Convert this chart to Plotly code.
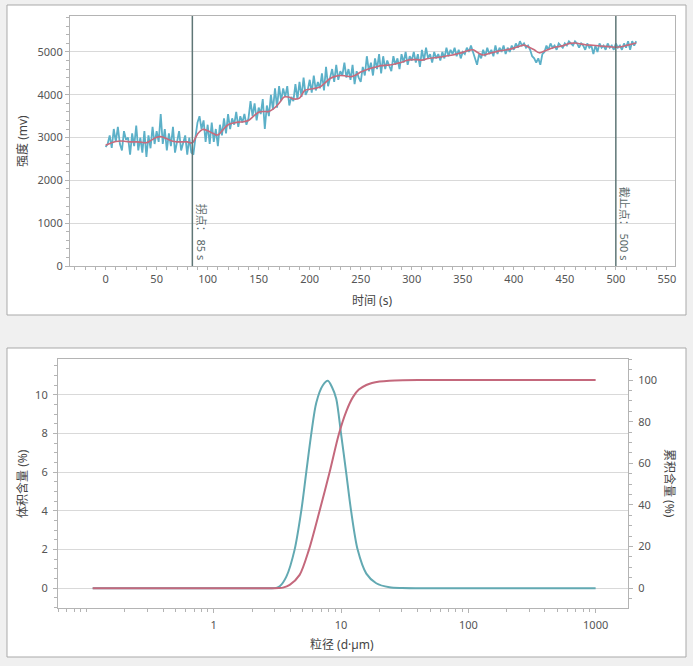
import plotly.graph_objects as go

# ---- top chart: signal intensity vs time ----
t_raw = list(range(0, 521, 2))
raw_mv = [
    2780, 2850, 3050, 2760, 3200, 2900, 3250, 2850, 2700, 3150, 2950,
    3000, 2600, 3100, 2800, 3280, 2700, 3000, 2650, 3150, 2550,
    3050, 2750, 3250, 2850, 3150, 2900, 3550, 2850, 3200, 2700,
    3100, 2800, 3250, 2650, 2950, 3150, 2700, 2900, 3050, 2600, 3000, 2650,
    2600, 3000, 3350, 3500, 3200, 3400, 2900, 3300,
    2850, 3350, 2900, 3200, 2800, 3300, 3050, 3450, 3100, 3550,
    3200, 3450, 3300, 3600, 3250, 3500, 3350, 3550, 3300, 3450, 3850, 3500, 3800, 3400, 3700,
    3550, 3900, 3200, 3750, 3500, 4000, 3650, 4150, 3700, 4200, 3850, 4150, 3950, 4200, 3750,
    3950, 3850, 4250, 3900, 4300, 3950, 4400, 4000, 4100, 4350, 4050, 4450, 4100, 4300, 4150,
    4500, 4100, 4650, 4200, 4400, 4600, 4300, 4700, 4350, 4550, 4450, 4750, 4400, 4600, 4350,
    4700, 4250, 4550, 4400, 4300, 4650, 4450, 4900, 4550, 4750, 4450, 4850, 4600, 4950, 4500,
    4900, 4600, 4800, 4650, 4550, 4900, 4700, 4850, 4600, 4950, 4750, 5000, 4700, 4900, 4800,
    5000, 4750, 4950, 4650, 5050, 4800, 5100, 4850, 4950, 4750, 5000, 4850, 4950, 4800, 5000,
    4850, 5100, 4900, 5050, 4950, 5100, 4900, 5050, 4850, 5000, 4950, 5100, 5000, 5150, 5000,
    4800, 4700, 4950, 4850, 5050, 4900, 5100, 4950, 5050, 4900, 5150, 4950, 5100, 5000, 5150,
    4950, 5100, 5000, 5150, 5050, 5200, 5100, 5250, 5150, 5200, 5100, 5150, 5050, 4900, 4850,
    4750, 4850, 4700, 4950, 5000, 5150, 5050, 5200, 5100, 5150, 5050, 5200, 5150, 5100, 5200,
    5150, 5250, 5200, 5150, 5250, 5200, 5100, 5200, 5150, 5050, 5200, 5100, 5150, 4950, 5150,
    5000, 5200, 5100, 5150, 5050, 5200, 5100, 5150, 5050, 5200, 5100, 5150, 5050, 5200, 5100,
    5250, 5050, 5250, 5150, 5250,
]
t_smooth = list(range(0, 521, 5))
smooth_mv = [
    2820, 2870, 2910, 2920, 2910, 2900, 2900, 2890, 2880, 2940,
    3010, 3020, 2970, 2920, 2900, 2900, 2900, 2880, 3080, 3190,
    3160, 3100, 3060, 3180, 3300, 3340, 3360, 3370, 3400, 3500,
    3590, 3610, 3610, 3680, 3800, 3950, 3940, 3900, 3920, 4100,
    4130, 4150, 4180, 4280, 4380, 4430, 4450, 4440, 4420, 4460,
    4530, 4580, 4620, 4650, 4680, 4690, 4700, 4730, 4760, 4800,
    4820, 4820, 4810, 4840, 4860, 4870, 4890, 4910, 4930, 4960,
    4990, 5030, 5050, 4980, 4930, 4960, 4990, 5020, 5040, 5060,
    5090, 5130, 5160, 5110, 5050, 4980, 5020, 5070, 5110, 5130,
    5160, 5200, 5210, 5190, 5170, 5160, 5150, 5140, 5130, 5120,
    5110, 5120, 5150, 5180, 5210,
]
knee_s = 85
cutoff_s = 500

# ---- bottom chart: particle size distribution ----
size_um = [0.112, 0.5, 1, 2, 2.8, 3.1, 3.3, 3.72, 4.32, 4.87, 5.33, 5.84, 6.39, 7.2,
           7.88, 8.5, 9.17, 10.0, 10.97, 12.0, 13.5, 15.8, 18.9, 24, 30, 50, 100, 300, 1000]
volume_pct = [0, 0, 0, 0, 0, 0.02, 0.1, 0.6, 2.0, 4.0, 6.0, 8.0, 9.6, 10.5,
              10.73, 10.4, 9.8, 8.0, 6.0, 4.0, 2.0, 0.76, 0.26, 0.05, 0.01, 0, 0, 0, 0]
cum_size_um = [0.112, 0.5, 1, 2, 3.0, 3.25, 3.5, 3.95, 4.73, 5.59, 6.78, 8.13, 9.62, 11.0,
               12.4, 13.8, 15.8, 17.5, 20.1, 24, 30.6, 50, 100, 1000]
cum_pct = [0, 0, 0, 0, 0, 0.08, 0.3, 1.6, 6.4, 18.4, 37.1, 55.7, 74.1, 85.0,
           91.8, 95.4, 97.6, 98.6, 99.3, 99.7, 99.9, 100, 100, 100]

# layout is given in fractions of the visible page (which renders ~659px tall)
W, H = 693, 659
FONT = "Noto Sans, Noto Sans CJK SC, sans-serif"
TICKC = "#555555"
AXC = "#b4b4b4"
GRIDC = "#d9d9d9"


def px(p):
    return p / W


def py(p):
    return 1 - p / H


fig = go.Figure()
fig.add_trace(go.Scatter(x=t_raw, y=raw_mv, mode="lines",
                         line=dict(color="#5cb0c8", width=1.8), xaxis="x", yaxis="y"))
fig.add_trace(go.Scatter(x=t_smooth, y=smooth_mv, mode="lines", line_shape="spline",
                         line=dict(color="#c86a7c", width=1.6), xaxis="x", yaxis="y"))
fig.add_trace(go.Scatter(x=size_um, y=volume_pct, mode="lines", line_shape="spline",
                         line=dict(color="#62a9b2", width=2, smoothing=0.8), xaxis="x2", yaxis="y2"))
fig.add_trace(go.Scatter(x=cum_size_um, y=cum_pct, mode="lines", line_shape="spline",
                         line=dict(color="#c4687c", width=2, smoothing=0.8), xaxis="x2", yaxis="y3"))

tick_font = dict(size=11, color=TICKC, family=FONT)
axis_common = dict(showline=True, linecolor=AXC, linewidth=1, mirror=True,
                   ticks="outside", ticklen=4, tickcolor=AXC,
                   tickfont=tick_font, zeroline=False)

fig.update_layout(
    autosize=True, margin=dict(l=0, r=0, t=0, b=0),
    paper_bgcolor="#f0f0f0", plot_bgcolor="rgba(0,0,0,0)",
    showlegend=False, font=dict(family=FONT, color="#444444"),
    xaxis=dict(axis_common, domain=[px(70), px(676)], range=[-35, 558], anchor="y",
               dtick=50, showgrid=False, ticklen=3, ticklabelstandoff=0,
               minor=dict(dtick=10, ticks="outside", ticklen=3, tickcolor=AXC)),
    yaxis=dict(axis_common, domain=[py(266), py(16)], range=[0, 5840], anchor="x",
               dtick=1000, showgrid=True, gridcolor=GRIDC,
               minor=dict(dtick=200, ticks="outside", ticklen=3, tickcolor=AXC, showgrid=False)),
    xaxis2=dict(axis_common, type="log", domain=[px(58), px(629)], range=[-1.224, 3.255], anchor="y2",
                tickvals=[1, 10, 100, 1000], ticktext=["1", "10", "100", "1000"], showgrid=False,
                ticklabelstandoff=3, tickfont=tick_font,
                minor=dict(dtick="D1", ticks="outside", ticklen=3, tickcolor=AXC, showgrid=False)),
    yaxis2=dict(axis_common, domain=[py(608), py(359)], range=[-1.02, 11.86], anchor="x2",
                dtick=2, showgrid=True, gridcolor=GRIDC, ticklabelstandoff=3,
                minor=dict(dtick=0.5, ticks="outside", ticklen=3, tickcolor=AXC, showgrid=False)),
    yaxis3=dict(axis_common, overlaying="y2", side="right", range=[-9.5, 110.1], anchor="x2",
                dtick=20, showgrid=False, ticklabelstandoff=3,
                minor=dict(dtick=5, ticks="outside", ticklen=3, tickcolor=AXC, showgrid=False)),
)

# panel boxes
for y0, y1 in [(315, 5), (657, 348)]:
    fig.add_shape(type="rect", xref="paper", yref="paper", x0=px(7), x1=px(687),
                  y0=py(y0), y1=py(y1), fillcolor="white",
                  line=dict(color="#a9a9a9", width=1), layer="below")

# knee / cutoff markers
for xv, label in [(knee_s, "拐点： 85 s"), (cutoff_s, "截止点： 500 s")]:
    fig.add_shape(type="line", xref="x", yref="y domain", x0=xv, x1=xv, y0=0, y1=1,
                  line=dict(color="#5f7676", width=1.5))
    fig.add_annotation(x=xv, xref="x", y=py(263), yref="paper", text=label, textangle=90,
                       showarrow=False, xanchor="left", yanchor="bottom",
                       font=dict(size=11, color="#5a6a6a"))

titles = [
    ("强度 (mv)", 22, 141, -90),
    ("时间 (s)", 373, 301, 0),
    ("体积含量 (%)", 22, 483, -90),
    ("累积含量 (%)", 671, 483, 90),
    ("粒径 (d·µm)", 342, 644, 0),
]
for text, x, y, ang in titles:
    fig.add_annotation(x=px(x), y=py(y), xref="paper", yref="paper", text=text,
                       xanchor="center", yanchor="middle",
                       textangle=ang, showarrow=False, font=dict(size=12, color="#444444"))

fig.write_html("out.html", config={"displayModeBar": False, "responsive": True},
               default_width="100vw", default_height="100vh",
               post_script="document.body.style.margin='0px';"
                           "document.body.style.overflow='hidden';"
                           "document.documentElement.style.overflow='hidden';"
                           "document.body.style.background='#f0f0f0';"
                           "window.dispatchEvent(new Event('resize'));")
